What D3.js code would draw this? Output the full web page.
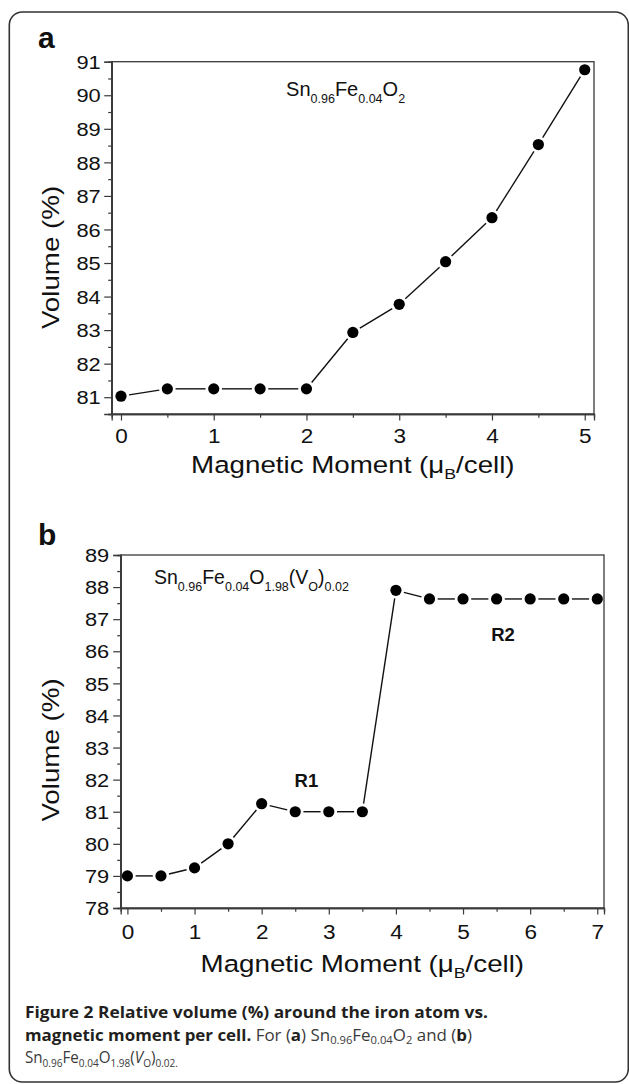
<!DOCTYPE html>
<html>
<head>
<meta charset="utf-8">
<script src="https://cdn.jsdelivr.net/npm/d3@7"></script>
<style>
  html, body { margin: 0; padding: 0; background: #fff; }
  svg { display: block; }
</style>
</head>
<body>
<svg id="chart" width="629" height="1084"></svg>
<script>
// ---------------- data ----------------
const momentA = [0, 0.5, 1, 1.5, 2, 2.5, 3, 3.5, 4, 4.5, 5];
const volumeA = [81.03, 81.25, 81.25, 81.25, 81.25, 82.93, 83.77, 85.04, 86.35, 88.53, 90.76];

const momentB = [0, 0.5, 1, 1.5, 2, 2.5, 3, 3.5, 4, 4.5, 5, 5.5, 6, 6.5, 7];
const volumeB = [79, 79, 79.25, 80, 81.25, 81, 81, 81, 87.9, 87.63, 87.63, 87.63, 87.63, 87.63, 87.63];

const xTicksA = [0, 1, 2, 3, 4, 5];
const xMinorA = [0.5, 1.5, 2.5, 3.5, 4.5];
const yTicksA = [81, 82, 83, 84, 85, 86, 87, 88, 89, 90, 91];
const yMinorA = [80.5, 81.5, 82.5, 83.5, 84.5, 85.5, 86.5, 87.5, 88.5, 89.5, 90.5];

const xTicksB = [0, 1, 2, 3, 4, 5, 6, 7];
const xMinorB = [0.5, 1.5, 2.5, 3.5, 4.5, 5.5, 6.5];
const yTicksB = [78, 79, 80, 81, 82, 83, 84, 85, 86, 87, 88, 89];
const yMinorB = [78.5, 79.5, 80.5, 81.5, 82.5, 83.5, 84.5, 85.5, 86.5, 87.5, 88.5];

const annotationsB = [
  { text: "R1", x: 2.49, y: 81.78 },
  { text: "R2", x: 5.42, y: 86.32 }
];

const xTitle = "Magnetic Moment (μ";
const yTitle = "Volume (%)";

// ---------------- drawing ----------------
const svg = d3.select("#chart");
const FONT = "'Liberation Sans', Arial, Helvetica, sans-serif";
const AXIS_COLOR = "#3a3a3a";

// outer rounded frame
svg.append("rect")
  .attr("x", 9.3).attr("y", 12)
  .attr("width", 619).attr("height", 1070)
  .attr("rx", 13).attr("ry", 13)
  .attr("fill", "none")
  .attr("stroke", "#333")
  .attr("stroke-width", 1.6);

function panel(cfg) {
  const g = svg.append("g");
  const x = d3.scaleLinear().domain(cfg.xDomain).range([cfg.left, cfg.right]);
  const y = d3.scaleLinear().domain(cfg.yDomain).range([cfg.bottom, cfg.top]);

  // plot box
  g.append("rect")
    .attr("x", cfg.left).attr("y", cfg.top)
    .attr("width", cfg.right - cfg.left).attr("height", cfg.bottom - cfg.top)
    .attr("fill", "none").attr("stroke", AXIS_COLOR).attr("stroke-width", 1.3);

  const yAx = g.append("g").attr("transform", `translate(${cfg.left},0)`)
    .call(d3.axisLeft(y).tickValues(cfg.yTicks).tickSize(7.5).tickFormat(d3.format("d")));
  g.append("g").attr("transform", `translate(${cfg.left},0)`)
    .call(d3.axisLeft(y).tickValues(cfg.yMinor).tickSize(3.5).tickFormat(""));
  const xAx = g.append("g").attr("transform", `translate(0,${cfg.bottom})`)
    .call(d3.axisBottom(x).tickValues(cfg.xTicks).tickSize(6.5).tickFormat(d3.format("d")));
  g.append("g").attr("transform", `translate(0,${cfg.bottom})`)
    .call(d3.axisBottom(x).tickValues(cfg.xMinor).tickSize(3.8).tickFormat(""));

  g.selectAll(".domain").attr("stroke", AXIS_COLOR).attr("stroke-width", 1.3);
  g.selectAll(".tick line").attr("stroke", AXIS_COLOR).attr("stroke-width", 1.2);

  yAx.selectAll(".tick text")
    .attr("x", null).attr("dy", "0.36em")
    .attr("transform", `translate(${cfg.yLabelOffset},0) scale(1.18,1)`)
    .attr("font-family", FONT).attr("font-size", 18.5).attr("fill", "#111")
    .attr("text-anchor", "end");
  xAx.selectAll(".tick text")
    .attr("y", null).attr("dy", null)
    .attr("transform", `translate(0,${cfg.xLabelOffset}) scale(1.1,1)`)
    .attr("font-family", FONT).attr("font-size", 20.5).attr("fill", "#111")
    .attr("text-anchor", "middle");

  const xt = g.append("text")
    .attr("transform", `translate(${(cfg.left + cfg.right) / 2},${cfg.xTitleY}) scale(1.18,1)`)
    .attr("text-anchor", "middle")
    .attr("font-family", FONT).attr("font-size", 23.5).attr("fill", "#111");
  xt.append("tspan").text(xTitle);
  xt.append("tspan").attr("font-size", 15).attr("dy", 6).text("B");
  xt.append("tspan").attr("dy", -6).text("/cell)");

  g.append("text")
    .attr("transform", `translate(${cfg.yTitleX},${cfg.yTitleY}) rotate(-90) scale(1.18,1)`)
    .attr("text-anchor", "middle")
    .attr("font-family", FONT).attr("font-size", 23.5).attr("fill", "#111")
    .text(yTitle);

  g.append("text")
    .attr("x", 38).attr("y", cfg.letterY)
    .attr("font-family", FONT).attr("font-weight", "bold").attr("font-size", 30)
    .attr("fill", "#111").text(cfg.letter);

  const f = g.append("text")
    .attr("x", x(cfg.formulaPos[0])).attr("y", y(cfg.formulaPos[1]))
    .attr("font-family", FONT).attr("font-size", cfg.formulaSize).attr("fill", "#111");
  cfg.formula.forEach(part => {
    const t = f.append("tspan").text(part.t);
    if (part.sub) t.attr("font-size", 12.5).attr("dy", 7);
    if (part.back) t.attr("dy", -7);
  });

  const pts = cfg.xs.map((d, i) => [x(d), y(cfg.ys[i])]);
  const r = 5.6, gap = 2.6;
  const segs = d3.pairs(pts).map(([p, q]) => {
    const dx = q[0] - p[0], dy = q[1] - p[1];
    const L = Math.hypot(dx, dy);
    const s = (r + gap) / L;
    return [[p[0] + dx * s, p[1] + dy * s], [q[0] - dx * s, q[1] - dy * s]];
  });
  g.selectAll("line.seg").data(segs).join("line")
    .attr("class", "seg")
    .attr("x1", d => d[0][0]).attr("y1", d => d[0][1])
    .attr("x2", d => d[1][0]).attr("y2", d => d[1][1])
    .attr("stroke", "#111").attr("stroke-width", 1.4);

  g.selectAll("circle.pt").data(pts).join("circle")
    .attr("class", "pt")
    .attr("cx", d => d[0]).attr("cy", d => d[1]).attr("r", r)
    .attr("fill", "#000");

  return { g, x, y };
}

const formulaA = [
  { t: "Sn" }, { t: "0.96", sub: true }, { t: "Fe", back: true },
  { t: "0.04", sub: true }, { t: "O", back: true }, { t: "2", sub: true }
];
const formulaB = [
  { t: "Sn" }, { t: "0.96", sub: true }, { t: "Fe", back: true },
  { t: "0.04", sub: true }, { t: "O", back: true }, { t: "1.98", sub: true },
  { t: "(V", back: true }, { t: "O", sub: true }, { t: ")", back: true },
  { t: "0.02", sub: true }
];

panel({
  left: 111.7, right: 594, top: 61.7, bottom: 414,
  xDomain: [-0.1, 5.1], yDomain: [80.5, 91],
  xTicks: xTicksA, xMinor: xMinorA, yTicks: yTicksA, yMinor: yMinorA,
  yLabelOffset: -11, xLabelOffset: 29,
  xTitleY: 473.2, yTitleX: 59, yTitleY: 257.5,
  letter: "a", letterY: 47.7,
  formula: formulaA, formulaPos: [1.78, 89.97], formulaSize: 20,
  xs: momentA, ys: volumeA
});

const pb = panel({
  left: 120.7, right: 604, top: 555, bottom: 908,
  xDomain: [-0.1, 7.1], yDomain: [78, 89],
  xTicks: xTicksB, xMinor: xMinorB, yTicks: yTicksB, yMinor: yMinorB,
  yLabelOffset: -11.5, xLabelOffset: 31,
  xTitleY: 971.7, yTitleX: 59, yTitleY: 750,
  letter: "b", letterY: 545,
  formula: formulaB, formulaPos: [0.396, 88.1], formulaSize: 19.5,
  xs: momentB, ys: volumeB
});

pb.g.selectAll("text.ann").data(annotationsB).join("text")
  .attr("class", "ann")
  .attr("x", d => pb.x(d.x)).attr("y", d => pb.y(d.y))
  .attr("font-family", FONT).attr("font-weight", "bold").attr("font-size", 18.5)
  .attr("fill", "#111").text(d => d.text);

// ---------------- caption ----------------
const CFONT = "'Open Sans', 'Noto Sans', sans-serif";
const cap = svg.append("g").attr("font-family", CFONT).attr("font-size", 16.6);

cap.append("text").attr("x", 25).attr("y", 1018.3)
  .attr("font-weight", "bold").attr("fill", "#231f20")
  .attr("textLength", 463).attr("lengthAdjust", "spacingAndGlyphs")
  .text("Figure 2 Relative volume (%) around the iron atom vs.");

const l2 = cap.append("text").attr("x", 25).attr("y", 1040.8).attr("fill", "#3a3a3a")
  .attr("textLength", 447).attr("lengthAdjust", "spacingAndGlyphs");
l2.append("tspan").attr("font-weight", "bold").attr("fill", "#231f20").text("magnetic moment per cell.");
l2.append("tspan").text(" For (");
l2.append("tspan").attr("font-weight", "bold").attr("fill", "#231f20").text("a");
l2.append("tspan").text(") Sn");
l2.append("tspan").attr("font-size", 11).attr("dy", 3.5).text("0.96");
l2.append("tspan").attr("dy", -3.5).text("Fe");
l2.append("tspan").attr("font-size", 11).attr("dy", 3.5).text("0.04");
l2.append("tspan").attr("dy", -3.5).text("O");
l2.append("tspan").attr("font-size", 11).attr("dy", 3.5).text("2");
l2.append("tspan").attr("dy", -3.5).text(" and (");
l2.append("tspan").attr("font-weight", "bold").attr("fill", "#231f20").text("b");
l2.append("tspan").text(")");

const l3 = cap.append("text").attr("x", 25).attr("y", 1063.3).attr("fill", "#3a3a3a")
  .attr("textLength", 153).attr("lengthAdjust", "spacingAndGlyphs");
l3.append("tspan").text("Sn");
l3.append("tspan").attr("font-size", 11).attr("dy", 3.5).text("0.96");
l3.append("tspan").attr("dy", -3.5).text("Fe");
l3.append("tspan").attr("font-size", 11).attr("dy", 3.5).text("0.04");
l3.append("tspan").attr("dy", -3.5).text("O");
l3.append("tspan").attr("font-size", 11).attr("dy", 3.5).text("1.98");
l3.append("tspan").attr("dy", -3.5).text("(");
l3.append("tspan").attr("font-style", "italic").text("V");
l3.append("tspan").attr("font-size", 11).attr("dy", 3.5).text("O");
l3.append("tspan").attr("dy", -3.5).text(")");
l3.append("tspan").attr("font-size", 11).attr("dy", 3.5).text("0.02");
l3.append("tspan").attr("font-size", 11).text(".");
</script>
</body>
</html>
